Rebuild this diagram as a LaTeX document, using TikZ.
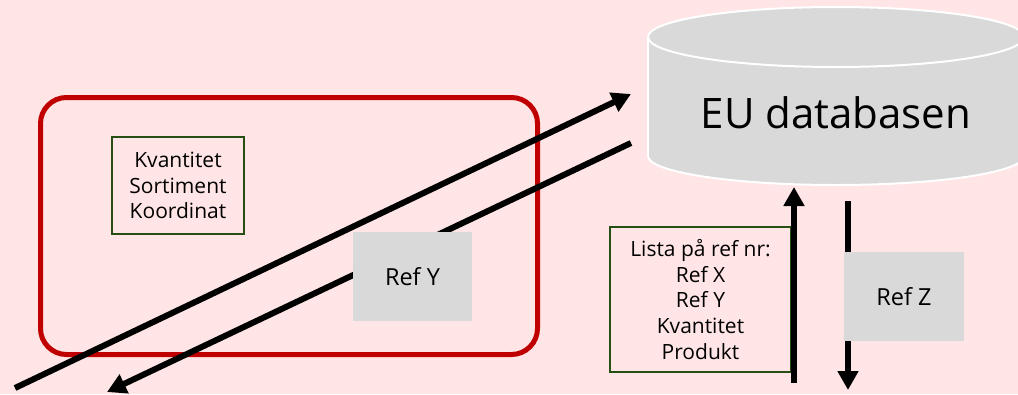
\documentclass[tikz,border=0pt]{standalone}
\usepackage{fontspec}
\setmainfont{Open Sans}
\usetikzlibrary{arrows.meta}
\definecolor{bgpink}{HTML}{FFE5E5}
\definecolor{boxgray}{HTML}{D9D9D9}
\definecolor{framered}{HTML}{C00000}
\definecolor{boxgreen}{HTML}{274E13}
\tikzset{
  greenbox/.style={draw=boxgreen, line width=2.5pt, fill=none, align=center, inner sep=0pt,
    font=\fontsize{21}{25.7}\selectfont},
  graybox/.style={fill=boxgray, draw=none, align=center, inner sep=0pt,
    font=\fontsize{23.5}{28}\selectfont},
  bigarrow/.style={line width=6pt, -{Triangle[length=19pt,width=20pt]}},
}
\begin{document}
\begin{tikzpicture}[x=1pt,y=-1pt]
\fill[bgpink] (0,0) rectangle (1018,394);
\useasboundingbox (0,0) rectangle (1018,394);
\clip (0,0) rectangle (1018,394);
% red frame
\node[draw=framered, line width=5pt, rounded corners=26pt, minimum width=497pt, minimum height=257pt, inner sep=0pt] (frame) at (289,226) {};
% green box left
\node[greenbox, minimum width=132pt, minimum height=97pt] (kvant) at (178,185.5) {Kvantitet\\Sortiment\\Koordinat};
% diagonal arrows
\coordinate (a1s) at (15,388);
\coordinate (a1e) at (631,94);
\coordinate (a2s) at (631,143);
\coordinate (a2e) at (107,392);
\draw[bigarrow] (a1s) -- (a1e);
\draw[bigarrow] (a2s) -- (a2e);
% Ref Y
\node[graybox, minimum width=119pt, minimum height=89pt] (refy) at (412.5,276.5) {Ref Y};
% cylinder
\fill[boxgray, draw=white, line width=2pt] (836,156) ellipse [x radius=188, y radius=29];
\fill[boxgray] (648,37) rectangle (1024,156);
\draw[white, line width=2pt] (648,37) -- (648,156);
\fill[boxgray, draw=white, line width=2pt] (836,37) ellipse [x radius=188, y radius=30];
\node[font=\fontsize{42}{50}\selectfont, inner sep=0pt] (db) at (836,113) {EU databasen};
\coordinate (dbbot) at (794,187);
\coordinate (dbout) at (848,201);
% Lista box
\node[greenbox, minimum width=181pt, minimum height=145pt] (lista) at (700.5,299.5) {Lista på ref nr:\\Ref X\\Ref Y\\Kvantitet\\Produkt};
% vertical arrows
\coordinate (us) at (794,383);
\coordinate (de) at (848,390);
\draw[bigarrow] (us) -- (dbbot);
\draw[bigarrow] (dbout) -- (de);
% Ref Z
\node[graybox, minimum width=120pt, minimum height=89pt] (refz) at (904,296.5) {Ref Z};
\end{tikzpicture}
\end{document}
